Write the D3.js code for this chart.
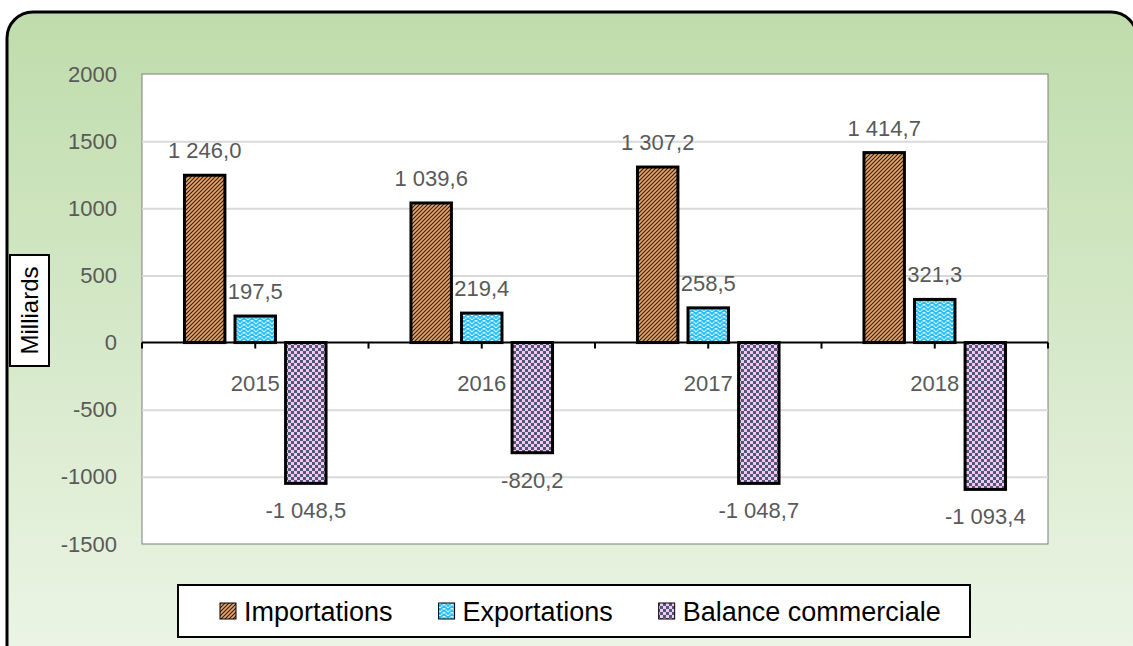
<!DOCTYPE html>
<html>
<head>
<meta charset="utf-8">
<script src="https://cdn.jsdelivr.net/npm/d3@7"></script>
<style>
  body { margin: 0; background: #fff; }
  svg { display: block; font-family: "Liberation Sans", Arial, sans-serif; }
</style>
</head>
<body>
<svg id="chart" width="1133" height="646"></svg>
<script>
// Data
var years = ["2015", "2016", "2017", "2018"];
var seriesNames = ["Importations", "Exportations", "Balance commerciale"];
var importations = [1246.0, 1039.6, 1307.2, 1414.7];
var exportations = [197.5, 219.4, 258.5, 321.3];
var balance = [-1048.5, -820.2, -1048.7, -1093.4];
var yTicks = [-1500, -1000, -500, 0, 500, 1000, 1500, 2000];

var seriesValues = [importations, exportations, balance];
var fills = ["url(#pImp)", "url(#pExp)", "url(#pBal)"];

// French number format: "1 246,0", plain hyphen for minus
var fr = d3.formatLocale({ decimal: ",", thousands: "\u00a0", grouping: [3], currency: ["", ""], minus: "-" });
var fmt = fr.format(",.1f");
var fmtTick = fr.format("d");

var svg = d3.select("#chart");
var defs = svg.append("defs");

// Background gradient
var grad = defs.append("linearGradient")
  .attr("id", "bg")
  .attr("x1", 0).attr("y1", 0).attr("x2", 0).attr("y2", 1);
grad.append("stop").attr("offset", "0%").attr("stop-color", "#bfdcab");
grad.append("stop").attr("offset", "100%").attr("stop-color", "#eef6e9");

// Importations: dark upward diagonal stripes on orange
var pImp = defs.append("pattern")
  .attr("id", "pImp")
  .attr("patternUnits", "userSpaceOnUse")
  .attr("width", 4).attr("height", 4);
pImp.append("rect").attr("width", 4).attr("height", 4).style("fill", "#eda466");
pImp.append("path")
  .attr("d", "M-1,1 L1,-1 M0,4 L4,0 M3,5 L5,3")
  .style("stroke", "#222")
  .style("stroke-width", 1.15);

// Exportations: white zig zag on cyan
var pExp = defs.append("pattern")
  .attr("id", "pExp")
  .attr("patternUnits", "userSpaceOnUse")
  .attr("width", 8).attr("height", 8);
pExp.append("rect").attr("width", 8).attr("height", 8).style("fill", "#22bff2");
pExp.append("path")
  .attr("d", "M0,4 L4,0 L8,4 M0,8 L4,4 L8,8")
  .style("fill", "none")
  .style("stroke", "#f2fbff")
  .style("stroke-width", 1.3)
  .style("stroke-dasharray", "1.4,0.6");

// Balance: checkerboard pink / slate
var pBal = defs.append("pattern")
  .attr("id", "pBal")
  .attr("patternUnits", "userSpaceOnUse")
  .attr("width", 6).attr("height", 6);
pBal.append("rect").attr("width", 6).attr("height", 6).style("fill", "#f6c6f4");
pBal.append("rect").attr("x", 0).attr("y", 0).attr("width", 3).attr("height", 3).style("fill", "#4e5873");
pBal.append("rect").attr("x", 3).attr("y", 3).attr("width", 3).attr("height", 3).style("fill", "#4e5873");

// Outer frame
svg.append("rect")
  .attr("x", 7).attr("y", 12)
  .attr("width", 1130).attr("height", 680)
  .attr("rx", 26).attr("ry", 26)
  .style("fill", "url(#bg)")
  .style("stroke", "#000")
  .style("stroke-width", 3);

// Plot area
var plot = { left: 142, top: 74, right: 1048, bottom: 544 };

var y = d3.scaleLinear()
  .domain([-1500, 2000])
  .range([plot.bottom, plot.top]);

var x0 = d3.scaleBand()
  .domain(years)
  .range([plot.left, plot.right])
  .padding(0);

var x1 = d3.scaleBand()
  .domain(seriesNames)
  .range([0, x0.bandwidth()])
  .paddingInner(0.2)
  .paddingOuter(0.84);

svg.append("rect")
  .attr("x", plot.left).attr("y", plot.top)
  .attr("width", plot.right - plot.left)
  .attr("height", plot.bottom - plot.top)
  .style("fill", "#fff")
  .style("stroke", "#7f7f7f")
  .style("stroke-width", 1);

// Gridlines
var grid = svg.append("g")
  .attr("class", "grid")
  .attr("transform", "translate(" + plot.left + ",0)")
  .call(d3.axisLeft(y).tickValues(yTicks.filter(function(d) { return d > -1500 && d < 2000 && d != 0; }))
    .tickSize(-(plot.right - plot.left)).tickFormat(""));
grid.select(".domain").remove();
grid.selectAll("line").style("stroke", "#d9d9d9").style("stroke-width", 2);

// Y tick labels
var yAxis = svg.append("g")
  .attr("class", "y-axis")
  .attr("transform", "translate(" + plot.left + ",0)")
  .call(d3.axisLeft(y).tickValues(yTicks).tickSize(0).tickPadding(25).tickFormat(fmtTick));
yAxis.select(".domain").remove();
yAxis.selectAll("text")
  .attr("font-family", null)
  .style("font-size", "22px")
  .style("fill", "#595959");

// Bars
var groups = svg.append("g")
  .attr("class", "bars")
  .selectAll("g")
  .data(seriesNames)
  .enter().append("g");

groups.selectAll("rect")
  .data(function(s, si) {
    return years.map(function(yr, i) { return { s: s, si: si, year: yr, v: seriesValues[si][i] }; });
  })
  .enter().append("rect")
  .attr("x", function(d) { return x0(d.year) + x1(d.s); })
  .attr("y", function(d) { return y(Math.max(0, d.v)); })
  .attr("width", x1.bandwidth())
  .attr("height", function(d) { return Math.abs(y(d.v) - y(0)); })
  .style("fill", function(d) { return fills[d.si]; })
  .style("stroke", "#000")
  .style("stroke-width", 3);

// Zero axis with ticks
svg.append("line")
  .attr("x1", plot.left).attr("x2", plot.right)
  .attr("y1", y(0)).attr("y2", y(0))
  .style("stroke", "#000")
  .style("stroke-width", 2);

var tickPos = [];
years.forEach(function(yr) {
  tickPos.push(x0(yr));
  tickPos.push(x0(yr) + x0.bandwidth() / 2);
});
tickPos.push(plot.right);
svg.append("g").selectAll("line")
  .data(tickPos)
  .enter().append("line")
  .attr("x1", function(d) { return d; }).attr("x2", function(d) { return d; })
  .attr("y1", y(0)).attr("y2", y(0) + 6)
  .style("stroke", "#000")
  .style("stroke-width", 2);

// Category labels
svg.append("g").selectAll("text")
  .data(years)
  .enter().append("text")
  .attr("x", function(d) { return x0(d) + x0.bandwidth() / 2; })
  .attr("y", y(0) + 48)
  .attr("text-anchor", "middle")
  .style("font-size", "22px")
  .style("fill", "#595959")
  .text(function(d) { return d; });

// Value labels
groups.selectAll("text")
  .data(function(s, si) {
    return years.map(function(yr, i) { return { s: s, si: si, year: yr, v: seriesValues[si][i] }; });
  })
  .enter().append("text")
  .attr("x", function(d) { return x0(d.year) + x1(d.s) + x1.bandwidth() / 2; })
  .attr("y", function(d) { return d.v >= 0 ? y(d.v) - 17 : y(d.v) + 35; })
  .attr("text-anchor", "middle")
  .style("font-size", "22px")
  .style("fill", "#595959")
  .text(function(d) { return fmt(d.v); });

// Y axis title
var yt = svg.append("g").attr("class", "y-title");
yt.append("rect")
  .attr("x", 10).attr("y", 255)
  .attr("width", 39).attr("height", 111)
  .style("fill", "#fff")
  .style("stroke", "#000")
  .style("stroke-width", 2);
yt.append("text")
  .attr("transform", "translate(38,310.5) rotate(-90)")
  .attr("text-anchor", "middle")
  .style("font-size", "24px")
  .style("fill", "#000")
  .text("Milliards");

// Legend
var legend = svg.append("g").attr("class", "legend");
legend.append("rect")
  .attr("x", 178).attr("y", 585)
  .attr("width", 792).attr("height", 52)
  .style("fill", "#fff")
  .style("stroke", "#000")
  .style("stroke-width", 2);

var lx = 220;
seriesNames.forEach(function(s, i) {
  legend.append("rect")
    .attr("x", lx).attr("y", 603)
    .attr("width", 16).attr("height", 16)
    .style("fill", fills[i])
    .style("stroke", "#000")
    .style("stroke-width", 1);
  var t = legend.append("text")
    .attr("x", lx + 24).attr("y", 621)
    .style("font-size", "27px")
    .style("fill", "#000")
    .text(s);
  lx += 24 + t.node().getComputedTextLength() + 46;
});
</script>
</body>
</html>
